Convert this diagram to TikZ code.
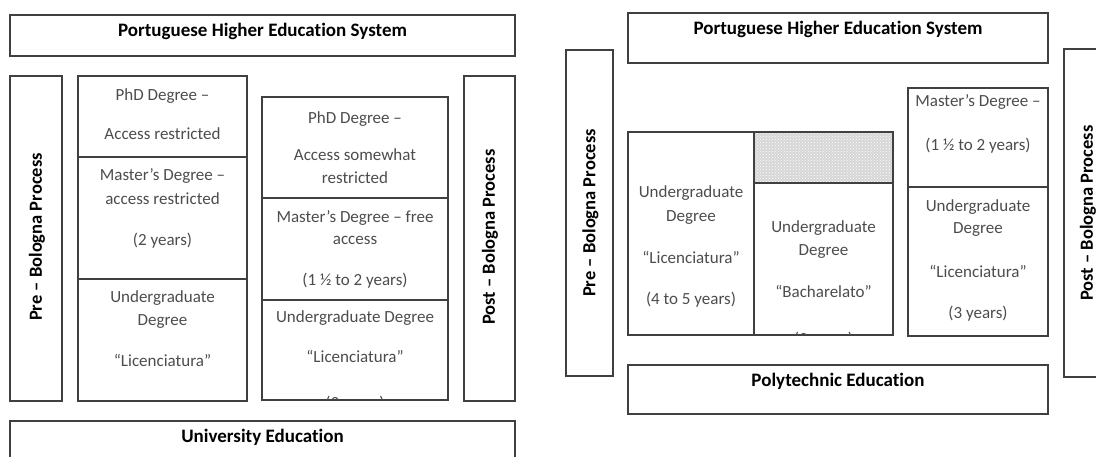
\documentclass[tikz,border=0pt]{standalone}
\usepackage{fontspec}
\setmainfont{Carlito}[Ligatures=NoCommon]
\usetikzlibrary{patterns}
\begin{document}
\begin{tikzpicture}[x=1pt,y=-1pt,
  box/.style={draw=black!75, line width=1.1pt},
  txt/.style={font=\fontsize{17}{19}\selectfont, text=black!70, inner sep=0pt, anchor=base},
  hdr/.style={font=\bfseries\fontsize{19}{21}\selectfont, text=black, inner sep=0pt, anchor=base},
  vhdr/.style={font=\bfseries\fontsize{18.5}{21}\selectfont, text=black, inner sep=0pt, rotate=90, anchor=center}
]
\useasboundingbox (0,0) rectangle (1096,456);

% ---------------- University education (left) ----------------
\draw[box] (10,15) rectangle (515,56);
\node[hdr] (uTitle) at (262.5,36) {Portuguese Higher Education System};

\draw[box] (10,76) rectangle (62,401);
\node[vhdr] (uPre) at (37,237) {Pre – Bologna Process};

% pre-Bologna degrees
\draw[box] (78,76) rectangle (247,401);
\draw[box] (78,157) -- (247,157);
\draw[box] (78,279) -- (247,279);
\node[txt] (uPhdA1) at (162.5,100) {PhD Degree –};
\node[txt] (uPhdA2) at (162.5,139) {Access restricted};
\node[txt] (uMsA1) at (162.5,180) {Master’s Degree –};
\node[txt] (uMsA2) at (162.5,204) {access restricted};
\node[txt] (uMsA3) at (162.5,245) {(2 years)};
\node[txt] (uUgA1) at (162.5,302) {Undergraduate};
\node[txt] (uUgA2) at (162.5,325) {Degree};
\node[txt] (uUgA3) at (162.5,366) {“Licenciatura”};

% post-Bologna degrees
\draw[box] (262,97) rectangle (448,400);
\draw[box] (262,198) -- (448,198);
\draw[box] (262,300) -- (448,300);
\node[txt] (uPhdB1) at (355,123) {PhD Degree –};
\node[txt] (uPhdB2) at (355,160) {Access somewhat};
\node[txt] (uPhdB3) at (355,183) {restricted};
\node[txt] (uMsB1) at (355,222) {Master’s Degree – free};
\node[txt] (uMsB2) at (355,244) {access};
\node[txt] (uMsB3) at (355,285) {(1 ½ to 2 years)};
\node[txt] (uUgB1) at (355,322) {Undergraduate Degree};
\node[txt] (uUgB2) at (355,362) {“Licenciatura”};
\begin{scope}
  \clip (262,300) rectangle (448,399);
  \node[txt] (uUgB3) at (355,408) {(3 years)};
\end{scope}

\draw[box] (464,76) rectangle (515,401);
\node[vhdr] (uPost) at (490,237) {Post – Bologna Process};

\draw[box] (10,421) rectangle (515,470);
\node[hdr] (uBase) at (262.5,442) {University Education};

% ---------------- Polytechnic education (right) ----------------
\draw[box] (628,13) rectangle (1048,63);
\node[hdr] (pTitle) at (838,34) {Portuguese Higher Education System};

\draw[box] (566,50) rectangle (613,376);
\node[vhdr] (pPre) at (590.5,213) {Pre – Bologna Process};

% pre-Bologna degrees
\draw[box] (628,132) rectangle (754,335);
\node[txt] (pLic1) at (691,197) {Undergraduate};
\node[txt] (pLic2) at (691,221) {Degree};
\node[txt] (pLic3) at (691,263) {“Licenciatura”};
\node[txt] (pLic4) at (691,304) {(4 to 5 years)};

\fill[black!16] (754,132) rectangle (893,183);
\fill[pattern=crosshatch dots, pattern color=white] (754,132) rectangle (893,183);
\draw[box] (754,132) rectangle (893,335);
\draw[box] (754,183) -- (893,183);
\node[txt] (pBac1) at (823.5,232) {Undergraduate};
\node[txt] (pBac2) at (823.5,255) {Degree};
\node[txt] (pBac3) at (823.5,297) {“Bacharelato”};
\begin{scope}
  \clip (754,183) rectangle (893,334);
  \node[txt] (pBac4) at (823.5,344) {(3 years)};
\end{scope}

% post-Bologna degrees
\draw[box] (908,88) rectangle (1048,336);
\draw[box] (908,187) -- (1048,187);
\node[txt] (pMs1) at (978,106) {Master’s Degree –};
\node[txt] (pMs2) at (978,150) {(1 ½ to 2 years)};
\node[txt] (pUg1) at (978,211) {Undergraduate};
\node[txt] (pUg2) at (978,233) {Degree};
\node[txt] (pUg3) at (978,277) {“Licenciatura”};
\node[txt] (pUg4) at (978,318) {(3 years)};

\draw[box] (1064,49) rectangle (1120,377);
\node[vhdr] (pPost) at (1088,213) {Post – Bologna Process};

\draw[box] (628,365) rectangle (1048,414);
\node[hdr] (pBase) at (838,386) {Polytechnic Education};
\end{tikzpicture}
\end{document}
